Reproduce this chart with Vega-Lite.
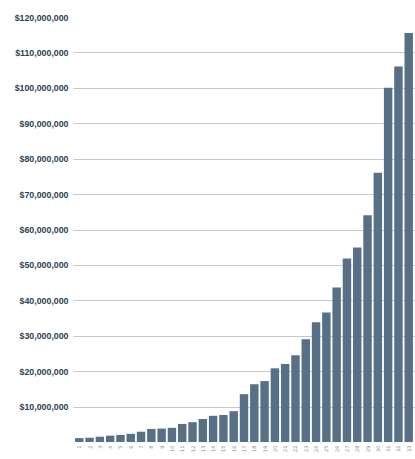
{
  "$schema": "https://vega.github.io/schema/vega-lite/v6.json",
  "autosize": {"type": "none"},
  "width": 342,
  "height": 425,
  "padding": {"left": 73, "top": 17, "right": 0, "bottom": 17},
  "background": "white",
  "data": {"values": [
    {"rank": "1", "value": 1100000},
    {"rank": "2", "value": 1200000},
    {"rank": "3", "value": 1500000},
    {"rank": "4", "value": 1800000},
    {"rank": "5", "value": 2000000},
    {"rank": "6", "value": 2300000},
    {"rank": "7", "value": 2900000},
    {"rank": "8", "value": 3700000},
    {"rank": "9", "value": 3800000},
    {"rank": "10", "value": 4000000},
    {"rank": "11", "value": 5100000},
    {"rank": "12", "value": 5600000},
    {"rank": "13", "value": 6500000},
    {"rank": "14", "value": 7400000},
    {"rank": "15", "value": 7600000},
    {"rank": "16", "value": 8700000},
    {"rank": "17", "value": 13500000},
    {"rank": "18", "value": 16300000},
    {"rank": "19", "value": 17200000},
    {"rank": "20", "value": 20800000},
    {"rank": "21", "value": 22000000},
    {"rank": "22", "value": 24500000},
    {"rank": "23", "value": 29000000},
    {"rank": "24", "value": 33800000},
    {"rank": "25", "value": 36600000},
    {"rank": "26", "value": 43600000},
    {"rank": "27", "value": 51800000},
    {"rank": "28", "value": 54900000},
    {"rank": "29", "value": 64000000},
    {"rank": "30", "value": 76000000},
    {"rank": "31", "value": 100000000},
    {"rank": "32", "value": 106000000},
    {"rank": "33", "value": 115500000}
  ]},
  "mark": {"type": "bar", "color": "#587086"},
  "encoding": {
    "x": {
      "field": "rank", "type": "ordinal", "sort": null,
      "scale": {"paddingInner": 0.18, "paddingOuter": 0.2},
      "axis": {"title": null, "domain": false, "ticks": false, "labelFontSize": 5, "labelAngle": -90, "labelColor": "#7d8a98", "labelPadding": 3, "labelFont": "DejaVu Sans"}
    },
    "y": {
      "field": "value", "type": "quantitative",
      "scale": {"domain": [0, 120000000], "nice": false},
      "axis": {
        "title": null, "domain": false, "ticks": false,
        "values": [10000000, 20000000, 30000000, 40000000, 50000000, 60000000, 70000000, 80000000, 90000000, 100000000, 110000000, 120000000],
        "format": "$,.0f",
        "labelFont": "Liberation Sans", "labelFontSize": 8.8, "labelFontWeight": "bold", "labelColor": "#2e4156",
        "labelPadding": 5,
        "grid": true, "gridColor": "#c8c8c8", "gridWidth": 1,
        "gridOpacity": {"condition": {"test": "datum.value == 120000000", "value": 0}, "value": 1}
      }
    }
  },
  "config": {"view": {"stroke": null}}
}
